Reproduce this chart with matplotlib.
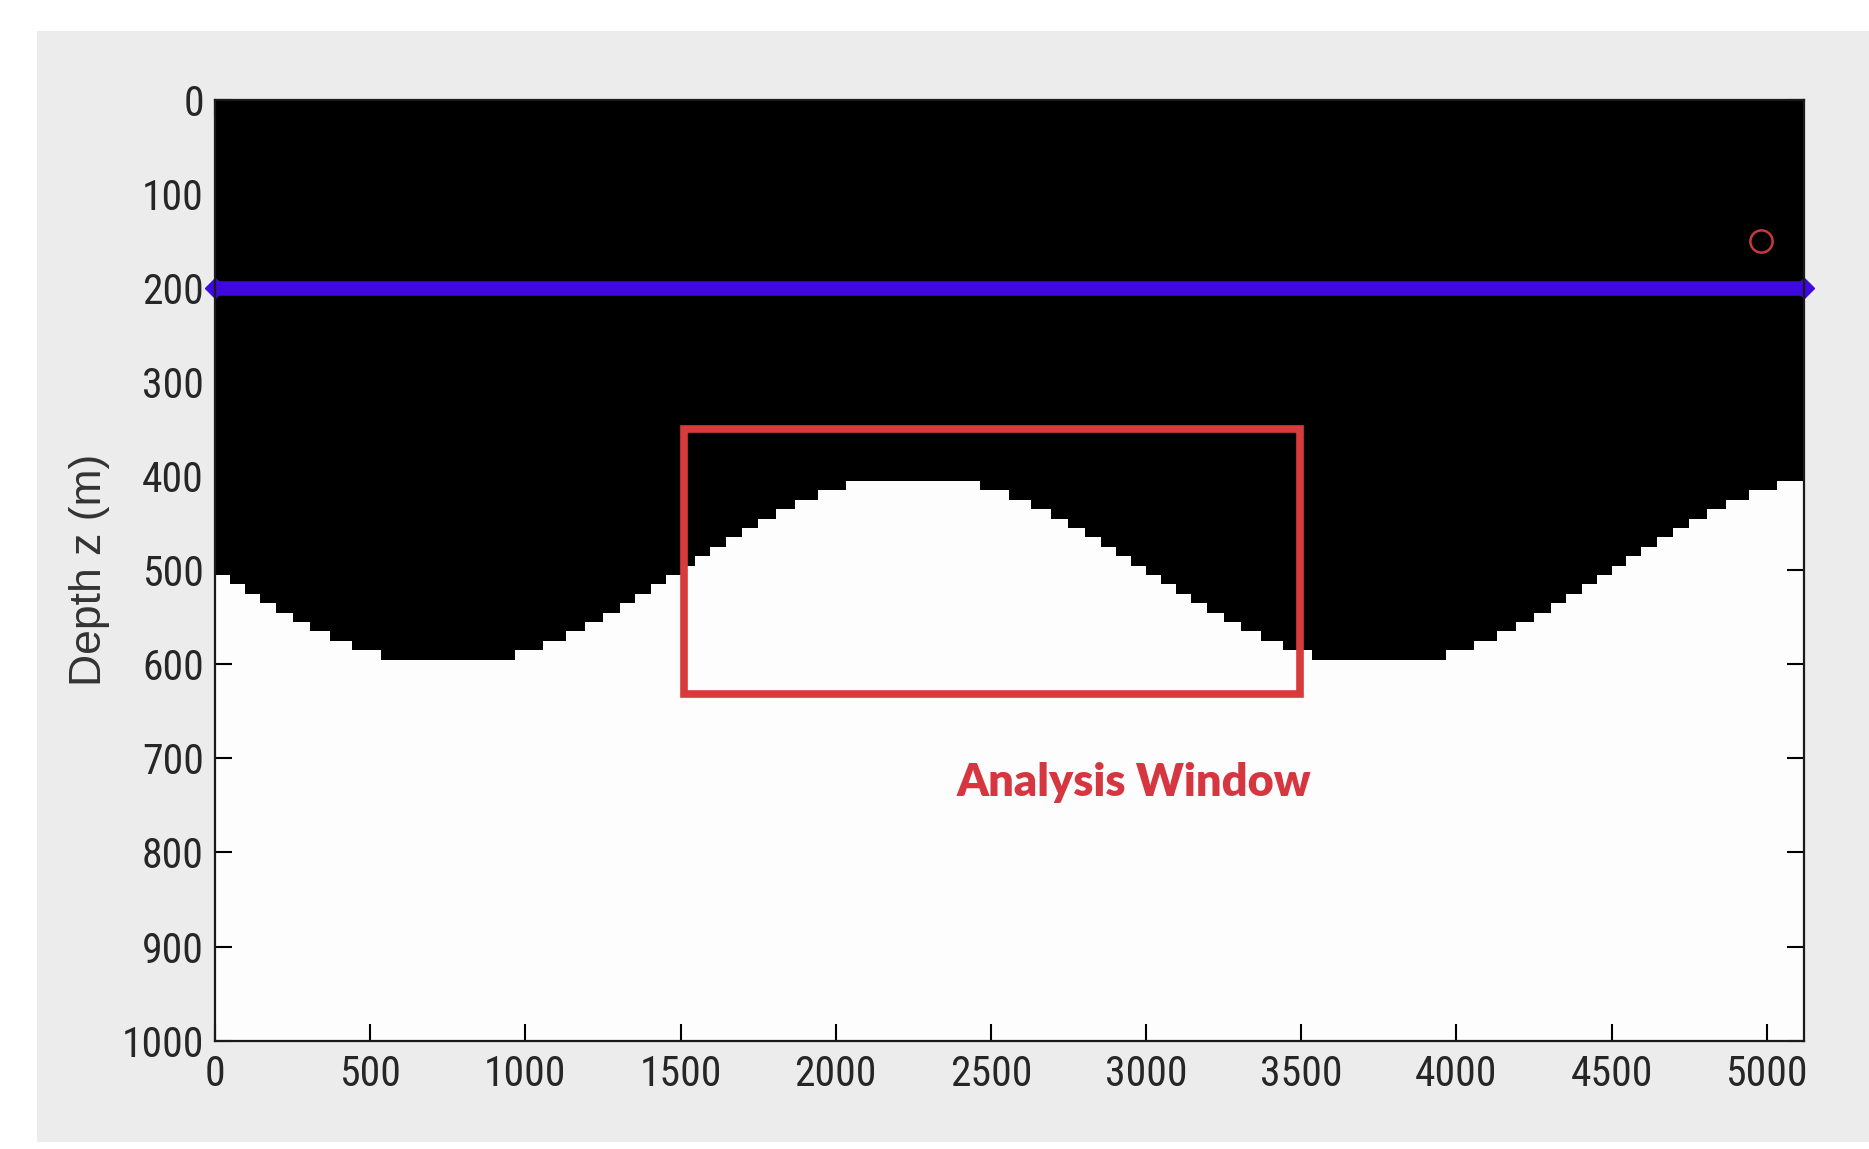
import matplotlib
matplotlib.use("Agg")
import matplotlib.pyplot as plt
from matplotlib.patches import Rectangle

# ---- data ----
# stepped interface: segment edges (m) and depth of each segment (m)
interface_edges = [0, 47.8, 96.1, 145.5, 196.5, 250.0, 307.2, 370.2, 442.7, 534.6,
                   965.4, 1057.3, 1129.8, 1192.8, 1250.0, 1303.5, 1354.5, 1403.9, 1452.2,
                   1500.0, 1547.8, 1596.1, 1645.5, 1696.5, 1750.0, 1807.2, 1870.2, 1942.7, 2034.6,
                   2465.4, 2557.3, 2629.8, 2692.8, 2750.0, 2803.5, 2854.5, 2903.9, 2952.2,
                   3000.0, 3047.8, 3096.1, 3145.5, 3196.5, 3250.0, 3307.2, 3370.2, 3442.7, 3534.6,
                   3965.4, 4057.3, 4129.8, 4192.8, 4250.0, 4303.5, 4354.5, 4403.9, 4452.2,
                   4500.0, 4547.8, 4596.1, 4645.5, 4696.5, 4750.0, 4807.2, 4870.2, 4942.7, 5034.6,
                   5120]
interface_depth = [505, 515, 525, 535, 545, 555, 565, 575, 585, 595,
                   585, 575, 565, 555, 545, 535, 525, 515, 505,
                   495, 485, 475, 465, 455, 445, 435, 425, 415, 405,
                   415, 425, 435, 445, 455, 465, 475, 485, 495,
                   505, 515, 525, 535, 545, 555, 565, 575, 585, 595,
                   585, 575, 565, 555, 545, 535, 525, 515, 505,
                   495, 485, 475, 465, 455, 445, 435, 425, 415, 405]

receiver_x = [0, 5120]
receiver_z = [200, 200]
source_x = [4980]
source_z = [150]

window_x = [1510, 3495]
window_z = [350, 632]
window_label = "Analysis Window"
label_pos = (2960, 726)

x_ticks = [0, 500, 1000, 1500, 2000, 2500, 3000, 3500, 4000, 4500, 5000]
y_ticks = [0, 100, 200, 300, 400, 500, 600, 700, 800, 900, 1000]
x_max = 5120
z_max = 1000
ylabel = "Depth z (m)"

# ---- figure ----
W, H = 1869, 1149
fig = plt.figure(figsize=(W / 100, H / 100), dpi=100, facecolor="white")
bg = Rectangle((37 / W, 7 / H), 1 - 37 / W, (1142 - 31) / H,
               transform=fig.transFigure, facecolor="#ECECEC",
               edgecolor="none", zorder=-10)
fig.add_artist(bg)

ax = fig.add_axes([215 / W, (H - 1040.6) / H, 1589 / W, 940.6 / H])
ax.set_zorder(1)
ax.set_facecolor("#FDFDFD")

ax.stairs(interface_depth, interface_edges, baseline=0, fill=True,
          color="black", linewidth=0, zorder=1)

ax.plot(receiver_x, receiver_z, color="#3E08DE", lw=10.5, solid_capstyle="butt",
        zorder=3, clip_on=False)
ax.plot(receiver_x, receiver_z, ls="none", marker="D", ms=10, color="#3E08DE",
        zorder=3, clip_on=False)

ax.plot(source_x, source_z, ls="none", marker="o", ms=16, mfc="none",
        mec="#C83A3A", mew=1.8, zorder=4)

ax.add_patch(Rectangle((window_x[0], window_z[0]), window_x[1] - window_x[0],
                       window_z[1] - window_z[0], fill=False,
                       edgecolor="#D83B3B", lw=5.5, zorder=4))

ax.text(label_pos[0], label_pos[1], window_label, color="#D6363F",
        fontsize=32.5, fontweight="heavy", family=["Lato", "DejaVu Sans"],
        ha="center", va="center", zorder=5)

ax.set_xlim(0, x_max)
ax.set_ylim(z_max, 0)
ax.set_xticks(x_ticks)
ax.set_yticks(y_ticks)
tick_font = ["Liberation Sans Narrow", "Roboto Condensed", "Open Sans Condensed",
             "Liberation Sans", "DejaVu Sans"]
ax.set_xticklabels([str(v) for v in x_ticks], family=tick_font, fontsize=30, color="#262626")
ax.set_yticklabels([str(v) for v in y_ticks], family=tick_font, fontsize=30, color="#262626")
ax.tick_params(axis="both", direction="in", length=12, width=1.5, color="black",
               top=True, right=True)
ax.tick_params(axis="x", pad=10)
ax.tick_params(axis="y", pad=8)
for s in ax.spines.values():
    s.set_linewidth(1.6)
    s.set_color("#1A1A1A")
    s.set_zorder(6)

ax.set_ylabel(ylabel, family=["Liberation Sans", "DejaVu Sans"], fontsize=32, color="#333333")
ax.yaxis.set_label_coords(-0.066, 0.5)

fig.savefig("out.png", dpi=100, facecolor="white")
